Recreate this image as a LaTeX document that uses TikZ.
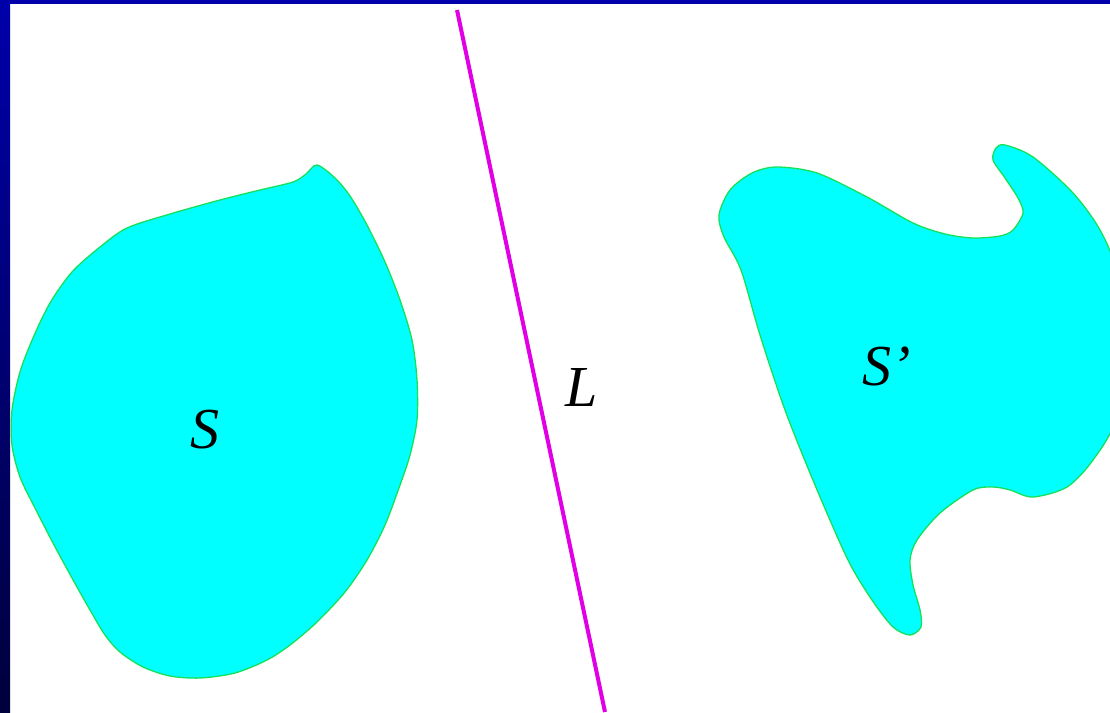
\documentclass[tikz,border=0pt]{standalone}
\usepackage{fontspec}
\setmainfont{Liberation Serif}
\usetikzlibrary{positioning}
\definecolor{slideblue}{RGB}{0,0,170}
\definecolor{slidenavy}{RGB}{0,0,60}
\definecolor{regioncyan}{RGB}{0,255,255}
\definecolor{regionedge}{RGB}{20,225,90}
\definecolor{linemagenta}{RGB}{225,0,230}

\begin{document}
\begin{tikzpicture}[x=1pt,y=-1pt,
  region/.style={fill=regioncyan,draw=regionedge,line width=1.3pt},
  mirror/.style={draw=linemagenta,line width=4pt},
  lettertag/.style={font=\fontsize{58}{60}\selectfont\itshape,inner sep=0pt}
]
\useasboundingbox (0,0) rectangle (1110,712);
\clip (0,0) rectangle (1110,712);
\fill[white] (0,0) rectangle (1110,712);

% region S
\draw[region] plot[smooth cycle] coordinates {
  (317,165) (335,178) (350,196) (367,225) (385,262) (400,300) (412,340)
  (417,380) (417,420) (410,455) (400,485) (385,525) (367,560) (345,592)
  (317,622) (290,645) (267,660) (235,673) (200,678) (170,676) (143,667)
  (120,652) (105,635) (90,610) (72,578) (53,543) (35,508) (20,477)
  (12,445) (12,410) (20,372) (33,338) (50,303) (72,272) (100,247)
  (127,228) (170,214) (220,200) (260,190) (293,182) (306,174)};

% region S'
\draw[region] plot[smooth cycle] coordinates {
  (719,215) (730,190) (752,173) (777,167) (817,173) (867,197) (913,223)
  (945,234) (973,238) (1000,236) (1013,230) (1023,213) (1018,198)
  (1005,178) (993,160) (996,148) (1005,145) (1033,157) (1073,193)
  (1100,230) (1115,270) (1118,350) (1115,420) (1093,460) (1067,487)
  (1033,497) (1010,490) (993,487) (973,490) (940,513) (917,540)
  (910,560) (913,585) (920,610) (921,627) (910,635) (893,627) (872,600)
  (848,560) (815,485) (785,410) (760,335) (741,270) (724,237)};

% line L
\coordinate (Ltop) at (457,10);
\coordinate (Lbot) at (605,712);
\draw[mirror] (Ltop) -- (Lbot);

\node[lettertag] (S) at (205,430) {S};
\node[lettertag] (Sprime) at (887,366) {S’};
\node[lettertag] (L) at (582,388) {L};

% slide frame
\shade[top color=slideblue,bottom color=slidenavy] (0,0) rectangle (10,712);
\fill[slideblue] (0,0) rectangle (1110,4);
\end{tikzpicture}
\end{document}
